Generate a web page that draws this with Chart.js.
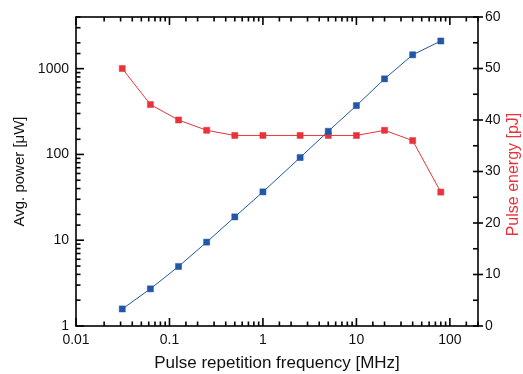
<!DOCTYPE html>
<html>
<head>
<meta charset="utf-8">
<script src="https://cdn.jsdelivr.net/npm/chart.js@4.4.1/dist/chart.umd.min.js"></script>
<style>
  html, body { margin: 0; padding: 0; background: #fff; }
  #wrap { width: 523px; height: 374px; }
</style>
</head>
<body>
<div id="wrap"><canvas id="chart" width="523" height="374"></canvas></div>
<script>
// repetition rate [MHz]
const freqs = [0.03125, 0.0625, 0.125, 0.25, 0.5, 1, 2.5, 5, 10, 20, 40, 80]
// average power [uW], left log axis
const avgPower = [1.58, 2.71, 4.94, 9.5, 18.7, 36.6, 92, 186, 371, 760, 1450, 2100]
// pulse energy [pJ], right axis
const pulseEnergy = [50, 43, 40, 38, 37, 37, 37, 37, 37, 38, 36, 26]

const xTickLabels = [0.01, 0.1, 1, 10, 100]
const yTickLabels = [1, 10, 100, 1000]

const blue = '#2157a6'
const red = '#e8333a'
const font = "'Liberation Sans', Arial, sans-serif"

function isDecade(v) {
    const l = Math.log10(v)
    return Math.abs(l - Math.round(l)) < 1e-6
}

function decadeLabel(v) {
    const hit = (this.axis === 'x' ? xTickLabels : yTickLabels).find(t => Math.abs(t - v) / t < 1e-6)
    return hit === undefined ? '' : String(hit)
}

// frame, ticks pointing into the plot, right axis title
const frameTicks = {
    id: 'frameTicks',
    afterDraw(chart) {
        const { ctx, chartArea: a, scales } = chart
        ctx.save()
        ctx.strokeStyle = '#000'
        ctx.lineWidth = 1.6
        ctx.strokeRect(a.left, a.top, a.right - a.left, a.bottom - a.top)

        ctx.fillStyle = '#000'
        const w = 1.6
        scales.x.ticks.forEach(t => {
            const px = scales.x.getPixelForValue(t.value)
            if (px < a.left - 1 || px > a.right + 1) return
            const len = isDecade(t.value) ? 8 : 4.5
            ctx.fillRect(px - w / 2, a.bottom - len, w, len)
            ctx.fillRect(px - w / 2, a.top, w, len)
        })

        scales.y.ticks.forEach(t => {
            const py = scales.y.getPixelForValue(t.value)
            const len = isDecade(t.value) ? 8 : 4.5
            ctx.fillRect(a.left, py - w / 2, len, w)
        })

        for (let v = 0; v <= 60; v += 5) {
            const py = scales.y1.getPixelForValue(v)
            if (v % 10 === 0) ctx.fillRect(a.right - 5, py - w / 2, 10, w)
            else ctx.fillRect(a.right - 5, py - w / 2, 5, w)
        }

        ctx.fillStyle = red
        ctx.font = '16px ' + font
        ctx.textAlign = 'center'
        ctx.textBaseline = 'middle'
        ctx.translate(514, (a.top + a.bottom) / 2 + 3)
        ctx.rotate(-Math.PI / 2)
        ctx.fillText('Pulse energy [pJ]', 0, 0)
        ctx.restore()
    }
}

Chart.defaults.font.family = font
Chart.defaults.color = '#111'

new Chart(document.getElementById('chart'), {
    type: 'line',
    data: {
        datasets: [
            {
                label: 'Avg. power',
                data: freqs.map((f, i) => ({ x: f, y: avgPower[i] })),
                yAxisID: 'y',
                borderColor: blue,
                backgroundColor: blue,
                borderWidth: 1,
                pointStyle: 'rect',
                pointRadius: 4.3,
                pointBorderWidth: 0.5
            },
            {
                label: 'Pulse energy',
                data: freqs.map((f, i) => ({ x: f, y: pulseEnergy[i] })),
                yAxisID: 'y1',
                borderColor: red,
                backgroundColor: red,
                borderWidth: 1,
                pointStyle: 'rect',
                pointRadius: 4.3,
                pointBorderWidth: 0.5
            }
        ]
    },
    options: {
        responsive: false,
        animation: false,
        layout: { padding: { top: 17, left: 0, right: 0, bottom: 0 } },
        plugins: { legend: { display: false }, tooltip: { enabled: false } },
        scales: {
            x: {
                type: 'logarithmic',
                min: 0.01,
                max: 200,
                grid: { display: false, drawTicks: false },
                border: { display: false },
                ticks: {
                    autoSkip: false,
                    maxRotation: 0,
                    padding: 6,
                    font: { size: 14 },
                    callback: decadeLabel
                },
                title: {
                    display: true,
                    text: 'Pulse repetition frequency [MHz]',
                    font: { size: 17 },
                    padding: { top: 6, bottom: 0 }
                },
                afterFit(s) { s.height = 48 }
            },
            y: {
                type: 'logarithmic',
                position: 'left',
                min: 1,
                max: 4000,
                grid: { display: false, drawTicks: false },
                border: { display: false },
                ticks: {
                    autoSkip: false,
                    padding: 7,
                    font: { size: 14 },
                    callback: decadeLabel
                },
                title: {
                    display: true,
                    text: 'Avg. power [μW]',
                    font: { size: 15 },
                    padding: { top: 11, bottom: 0 }
                },
                afterFit(s) { s.width = 76 }
            },
            y1: {
                type: 'linear',
                position: 'right',
                min: 0,
                max: 60,
                grid: { display: false, drawTicks: false },
                border: { display: false },
                ticks: {
                    stepSize: 10,
                    padding: 7,
                    font: { size: 14 }
                },
                afterFit(s) { s.width = 45 }
            }
        }
    },
    plugins: [frameTicks]
})
</script>
</body>
</html>
